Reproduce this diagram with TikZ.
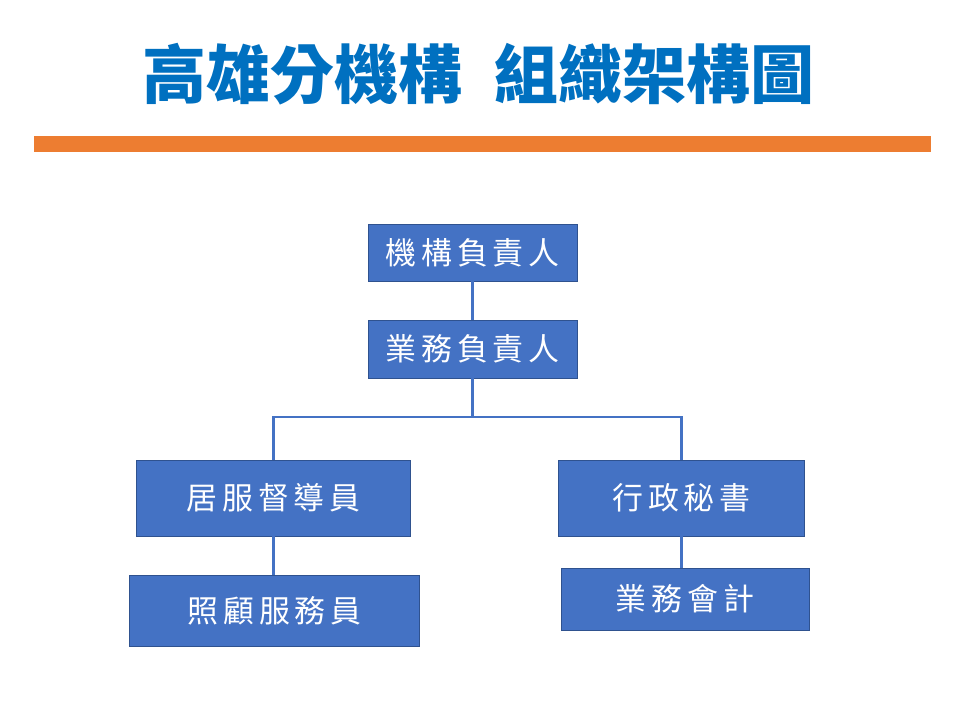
\documentclass[tikz,border=0pt]{standalone}
\usepackage{fontspec}
\usepackage{tikz}
\usetikzlibrary{positioning}
\newfontfamily\titlefont{Noto Sans CJK TC Black}
\newfontfamily\boxfont{Noto Sans CJK TC}[LetterSpace=16]
\definecolor{boxblue}{HTML}{4472C4}
\definecolor{edgeblue}{HTML}{2F528F}
\definecolor{titleblue}{HTML}{0070C0}
\definecolor{barorange}{HTML}{ED7D31}
\tikzset{>=latex}

\begin{document}
\begin{tikzpicture}[x=0.025cm, y=-0.025cm, post/.style={rectangle, draw=edgeblue, line width=0.6pt, fill=boxblue, text=white, inner sep=0pt, font=\boxfont\fontsize{22pt}{24pt}\selectfont}, link/.style={draw=boxblue, line width=1.5pt}]
		\useasboundingbox (0,0) rectangle (960,720);
		\node[text=titleblue, font=\titlefont\fontsize{45.5pt}{50pt}\selectfont] (title) at (478.5,74) {高雄分機構\hspace{0.5em}組織架構圖};
		\fill[barorange] (34,136) rectangle (931,152);

		\node[post, minimum width=5.225cm, minimum height=1.425cm] (boss) at (472.5,252.5) {機構負責人\hspace{-0.16em}};
		\node[post, minimum width=5.225cm, minimum height=1.45cm] (mgr) at (472.5,349) {業務負責人\hspace{-0.16em}};
		\node[post, minimum width=6.85cm, minimum height=1.9cm] (sup) at (273.5,498) {居服督導員\hspace{-0.16em}};
		\node[post, minimum width=7.25cm, minimum height=1.775cm] (care) at (274.5,610.5) {照顧服務員\hspace{-0.16em}};
		\node[post, minimum width=6.15cm, minimum height=1.9cm] (sec) at (681.5,498) {行政秘書\hspace{-0.16em}};
		\node[post, minimum width=6.2cm, minimum height=1.55cm] (acct) at (685,599) {業務會計\hspace{-0.16em}};
		\coordinate (split) at (472.5,417);

		\draw[link] (boss) -- (mgr);
		\draw[link] (mgr) -- (split);
		\draw[link] (sup.north) |- (split) -| (sec.north);
		\draw[link] (sup.south) -- (sup.south |- care.north);
		\draw[link] (sec.south) -- (sec.south |- acct.north);
	\end{tikzpicture}
\end{document}
